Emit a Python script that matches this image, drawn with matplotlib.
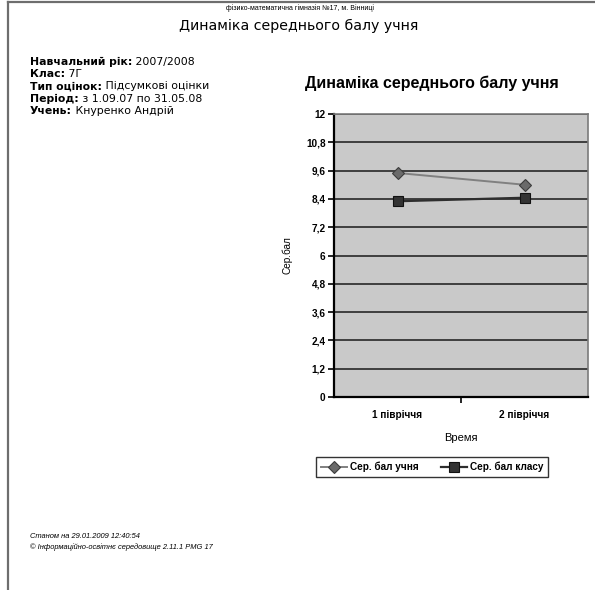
import matplotlib.pyplot as plt
from matplotlib.lines import Line2D

# semester averages
periods = ["1 півріччя", "2 півріччя"]
student_avg = [9.5, 9.0]
class_avg = [8.3, 8.45]
y_ticks = [0, 1.2, 2.4, 3.6, 4.8, 6, 7.2, 8.4, 9.6, 10.8, 12]
y_tick_labels = ["0", "1,2", "2,4", "3,6", "4,8", "6", "7,2", "8,4", "9,6", "10,8", "12"]

info_rows = [
    ("Навчальний рік:", "2007/2008"),
    ("Клас:", "7Г"),
    ("Тип оцінок:", "Підсумкові оцінки"),
    ("Період:", "з 1.09.07 по 31.05.08"),
    ("Учень:", "Кнуренко Андрій"),
]

W, H = 595, 590
fig = plt.figure(figsize=(W / 100, H / 100), dpi=100)
fig.patch.set_facecolor("white")


def fx(px):
    return px / W


def fy(py):
    return 1 - py / H


# page frame
fig.add_artist(Line2D([fx(8), fx(8)], [fy(2), fy(590)], color="#6e6e6e", lw=1.6))
fig.add_artist(Line2D([fx(8), fx(595)], [fy(2), fy(2)], color="#6e6e6e", lw=1.6))

# chart axes
ax = fig.add_axes([fx(334), fy(397), fx(588) - fx(334), fy(114) - fy(397)])

# page header
fig.text(fx(300), fy(8), "фізико-математична гімназія №17, м. Вінниці",
         ha="center", va="center", fontsize=5, family="Liberation Sans")
fig.text(fx(299), fy(26), "Динаміка середнього балу учня",
         ha="center", va="center", fontsize=10.2, family="DejaVu Sans")

# report info block: bold caption followed by plain value
for i, (label, value) in enumerate(info_rows):
    t = fig.text(fx(30), fy(62 + i * 12.2), label, ha="left", va="center",
                 fontsize=7.8, weight="bold", family="DejaVu Sans")
    ax.annotate(" " + value, xy=(1, 0), xycoords=t, ha="left", va="bottom",
                fontsize=7.8, family="DejaVu Sans", annotation_clip=False)

# footer
fig.text(fx(30), fy(537), "Станом на 29.01.2009 12:40:54", ha="left", va="center",
         fontsize=5.4, style="italic", family="Liberation Sans")
fig.text(fx(30), fy(547), "© Інформаційно-освітнє середовище 2.11.1 PMG 17",
         ha="left", va="center", fontsize=5.4, style="italic", family="Liberation Sans")

# chart body
ax.set_facecolor("#c9c9c9")
x = range(len(periods))
ax.set_xlim(-0.5, len(periods) - 0.5)
ax.set_ylim(0, 12)

for v in y_ticks[1:]:
    ax.axhline(v, color="#1a1a1a", lw=1.1, zorder=1)

ax.plot(x, student_avg, color="#808080", lw=1.4, marker="D", ms=6.5,
        mfc="#6a6a6a", mec="#3c3c3c", mew=0.8, zorder=3, label="Сер. бал учня")
ax.plot(x, class_avg, color="#2e2e2e", lw=1.6, marker="s", ms=6.5,
        mfc="#333333", mec="#111111", mew=0.8, zorder=3, label="Сер. бал класу")

ax.set_yticks(y_ticks)
ax.set_yticklabels(y_tick_labels)
ax.set_xticks(list(x))
ax.set_xticklabels(periods)
ax.set_xticks([0.5], minor=True)
ax.tick_params(axis="x", which="major", length=0, pad=9)
ax.tick_params(axis="x", which="minor", length=4, width=1.2, direction="out")
ax.tick_params(axis="y", length=4, width=1.2, direction="out", pad=2)
for lab in ax.get_yticklabels() + ax.get_xticklabels():
    lab.set_fontfamily("Liberation Sans")
    lab.set_fontweight("bold")
    lab.set_fontsize(7.2)

for side in ("left", "bottom"):
    ax.spines[side].set_color("black")
    ax.spines[side].set_linewidth(1.6)
for side in ("top", "right"):
    ax.spines[side].set_color("#7a7a7a")
    ax.spines[side].set_linewidth(1.2)

ax.set_title("Динаміка середнього балу учня", fontsize=11.5, weight="bold",
             family="Liberation Sans", pad=19, x=0.385)
ax.set_xlabel("Время", fontsize=8, family="Liberation Sans", labelpad=10)
ax.set_ylabel("Сер.бал", fontsize=7.2, family="Liberation Sans", labelpad=10)

leg = ax.legend(loc="upper center", bbox_to_anchor=(fx(432), fy(452)),
                bbox_transform=fig.transFigure, ncol=2, frameon=True,
                fancybox=False, edgecolor="black", handlelength=2.6,
                columnspacing=2.2, handletextpad=0.3, borderpad=0.45,
                prop={"family": "Liberation Sans", "weight": "bold", "size": 7.2})
leg.get_frame().set_linewidth(1.0)

fig.savefig("out.png", dpi=100)
